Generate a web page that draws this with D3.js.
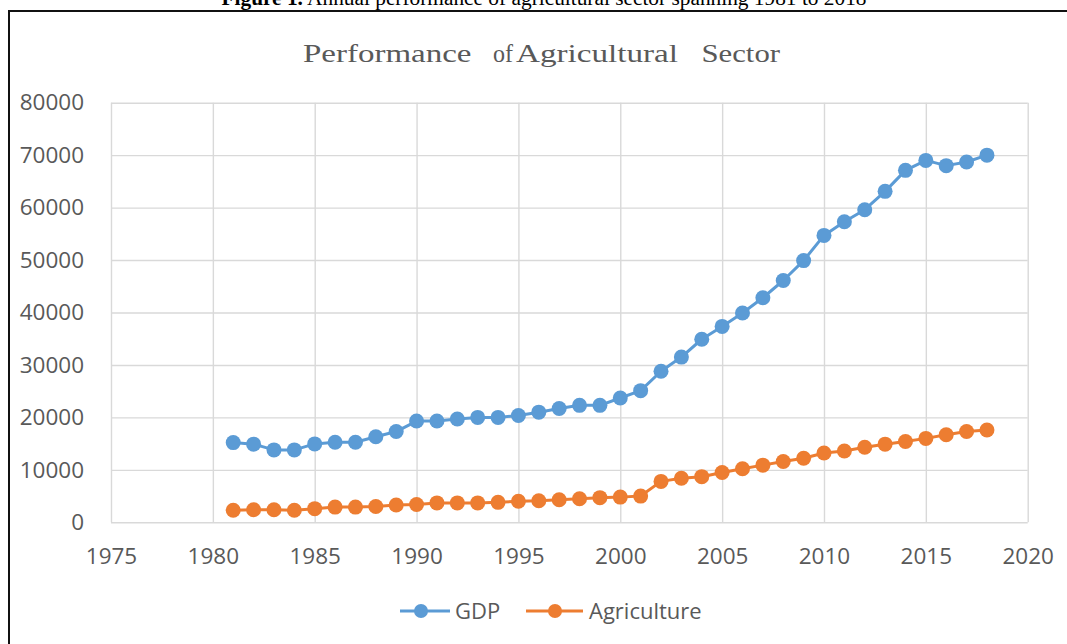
<!DOCTYPE html>
<html lang="en">
<head>
    <meta charset="UTF-8">
    <title>Performance of Agricultural Sector</title>
    <style>
        body {
            margin: 0;
            background-color: #ffffff;
        }
        .axis text {
            font-family: "Open Sans", sans-serif;
            font-size: 22.5px;
            fill: #595959;
        }
        .grid line {
            stroke: #d9d9d9;
            stroke-width: 1.4;
        }
        .grid path {
            display: none;
        }
        .legend text {
            font-family: "Open Sans", sans-serif;
            font-size: 22px;
            fill: #595959;
        }
    </style>
</head>
<body>

<div id="chart"></div>

<script src="https://d3js.org/d3.v7.min.js"></script>
<script>
    // --- data ---
    const years = [1981, 1982, 1983, 1984, 1985, 1986, 1987, 1988, 1989, 1990,
                   1991, 1992, 1993, 1994, 1995, 1996, 1997, 1998, 1999, 2000,
                   2001, 2002, 2003, 2004, 2005, 2006, 2007, 2008, 2009, 2010,
                   2011, 2012, 2013, 2014, 2015, 2016, 2017, 2018];

    const gdp = [15200, 14900, 13800, 13800, 14950, 15250, 15250, 16300, 17300, 19300,
                 19300, 19700, 20000, 20000, 20350, 21000, 21700, 22300, 22300, 23700,
                 25100, 28800, 31500, 34900, 37350, 39900, 42800, 46100, 49900, 54700,
                 57300, 59600, 63100, 67100, 69000, 68000, 68700, 70000];

    const agriculture = [2300, 2400, 2400, 2300, 2600, 2900, 2900, 3000, 3300, 3400,
                         3700, 3700, 3700, 3800, 4000, 4100, 4300, 4500, 4700, 4800,
                         5000, 7800, 8400, 8700, 9500, 10200, 10900, 11600, 12200, 13200,
                         13600, 14300, 14900, 15400, 16000, 16700, 17300, 17600];

    const xTicks = [1975, 1980, 1985, 1990, 1995, 2000, 2005, 2010, 2015, 2020];
    const yTicks = [0, 10000, 20000, 30000, 40000, 50000, 60000, 70000, 80000];

    const seriesNames = ["GDP", "Agriculture"];
    const seriesColors = ["#5b9bd5", "#ed7d31"];

    // --- setup ---
    const W = 1067, H = 644;
    const margin = {top: 102.7, right: 39.3, bottom: 121.7, left: 111};
    const width = W - margin.left - margin.right;
    const height = H - margin.top - margin.bottom;

    const root = d3.select("#chart")
      .append("svg")
        .attr("width", W)
        .attr("height", H);

    // caption above the framed chart (cut at the top in the source)
    const caption = root.append("text")
        .attr("x", 544)
        .attr("y", 4.5)
        .attr("text-anchor", "middle")
        .attr("textLength", 645)
        .attr("lengthAdjust", "spacingAndGlyphs")
        .style("font-family", "'Liberation Serif', serif")
        .style("font-size", "20px")
        .style("fill", "#000");
    caption.append("tspan").style("font-weight", "bold").text("Figure 1.");
    caption.append("tspan").text(" Annual performance of agricultural sector spanning 1981 to 2018");

    // frame
    root.append("rect")
        .attr("x", 9)
        .attr("y", 11)
        .attr("width", 1100)
        .attr("height", 700)
        .attr("fill", "none")
        .attr("stroke", "#111")
        .attr("stroke-width", 2);

    // title (words placed like the source, which is stretched sideways)
    const titleWords = [
        {t: "Performance", x: 303, w: 168.5},
        {t: "of", x: 493, w: 20},
        {t: "Agricultural", x: 516, w: 162},
        {t: "Sector", x: 701.5, w: 78.5}
    ];
    const title = root.append("text")
        .attr("y", 62.3)
        .style("font-family", "'Liberation Serif', serif")
        .style("font-size", "25px")
        .style("fill", "#595959");
    titleWords.forEach(w => {
        title.append("tspan")
            .attr("x", w.x)
            .attr("textLength", w.w)
            .attr("lengthAdjust", "spacingAndGlyphs")
            .text(w.t);
    });

    const svg = root.append("g")
        .attr("transform", `translate(${margin.left},${margin.top})`);

    // --- scales ---
    const x = d3.scaleLinear().domain([1975, 2020]).range([0, width]);
    const y = d3.scaleLinear().domain([0, 80000]).range([height, 0]);

    // --- gridlines + axes ---
    svg.append("g")
        .attr("class", "axis grid")
        .call(d3.axisLeft(y).tickValues(yTicks).tickSize(-width).tickPadding(27).tickFormat(d3.format("d")));

    svg.append("g")
        .attr("class", "axis grid")
        .attr("transform", `translate(0,${height})`)
        .call(d3.axisBottom(x).tickValues(xTicks).tickSize(-height).tickPadding(26).tickFormat(d3.format("d")));

    // --- lines + markers ---
    const series = [gdp, agriculture];
    const line = d3.line()
        .x((d, i) => x(years[i]))
        .y(d => y(d));

    series.forEach((vals, s) => {
        svg.append("path")
            .datum(vals)
            .attr("fill", "none")
            .attr("stroke", seriesColors[s])
            .attr("stroke-width", 3)
            .attr("stroke-linejoin", "round")
            .attr("d", line);

        svg.selectAll(".dot" + s)
          .data(vals)
          .join("circle")
            .attr("cx", (d, i) => x(years[i]))
            .attr("cy", d => y(d))
            .attr("r", 7.5)
            .attr("fill", seriesColors[s]);
    });

    // --- legend ---
    const legendX = [400, 526];
    const legend = root.append("g").attr("class", "legend");
    seriesNames.forEach((name, s) => {
        const g = legend.append("g").attr("transform", `translate(${legendX[s]},611)`);
        g.append("line")
            .attr("x1", 0).attr("x2", s === 0 ? 50 : 57)
            .attr("stroke", seriesColors[s])
            .attr("stroke-width", 3);
        g.append("circle")
            .attr("cx", s === 0 ? 21 : 29).attr("r", 7)
            .attr("fill", seriesColors[s]);
        g.append("text")
            .attr("x", s === 0 ? 55 : 63)
            .attr("dy", "0.36em")
            .text(name);
    });
</script>

</body>
</html>
